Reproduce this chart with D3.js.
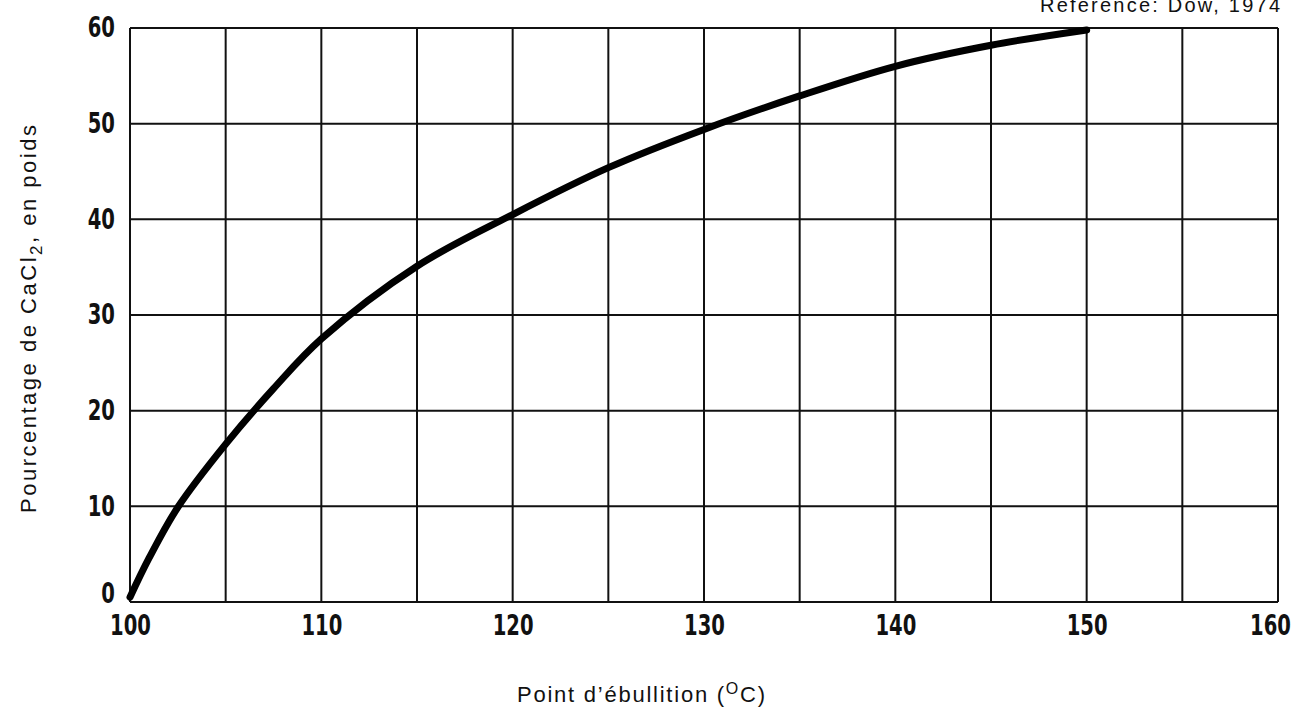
<!DOCTYPE html>
<html>
<head>
<meta charset="utf-8">
<script src="https://cdn.jsdelivr.net/npm/d3@7"></script>
<style>
  html, body { margin: 0; padding: 0; background: #fff; }
  svg { display: block; }
  .tick-label { font-family: "DejaVu Sans", sans-serif; font-weight: bold; font-size: 28px; fill: #111; }
  .title { font-family: "Liberation Sans", Arial, sans-serif; fill: #111; }
</style>
</head>
<body>
<svg id="chart" width="1294" height="719"></svg>
<script>
// Boiling point of aqueous CaCl2 solutions vs. concentration
const boilingPoint = [100, 101, 102.5, 105, 107.5, 110, 115, 120, 125, 130, 135, 140, 145, 150];
const cacl2Percent = [0.5, 4.6, 9.9, 16.5, 22.3, 27.5, 35.1, 40.5, 45.4, 49.4, 52.9, 56.0, 58.2, 59.8];

const xTickLabels = [100, 110, 120, 130, 140, 150, 160];
const xGridValues = [100, 105, 110, 115, 120, 125, 130, 135, 140, 145, 150, 155, 160];
const yTickLabels = [0, 10, 20, 30, 40, 50, 60];

const svg = d3.select("#chart");
const margin = { left: 130, right: 16, top: 28, bottom: 117 };
const W = 1294, H = 719;
const squeeze = 0.7; // condensed look for the numerals

const x = d3.scaleLinear().domain([100, 160]).range([margin.left, W - margin.right]);
const y = d3.scaleLinear().domain([0, 60]).range([H - margin.bottom, margin.top]);

// grid
const grid = svg.append("g").attr("stroke", "#111").attr("stroke-width", 2);
grid.selectAll("line.v").data(xGridValues).join("line")
  .attr("class", "v")
  .attr("x1", d => x(d)).attr("x2", d => x(d))
  .attr("y1", y(0)).attr("y2", y(60));
grid.selectAll("line.h").data(yTickLabels).join("line")
  .attr("class", "h")
  .attr("x1", x(100)).attr("x2", x(160))
  .attr("y1", d => y(d)).attr("y2", d => y(d));

// axes (labels only)
const xAxis = svg.append("g")
  .attr("transform", `translate(0,${y(0)})`)
  .call(d3.axisBottom(x).tickValues(xTickLabels).tickSize(0).tickPadding(13).tickFormat(d3.format("d")));
xAxis.select(".domain").remove();
xAxis.selectAll("text")
  .attr("class", "tick-label").attr("font-size", null).attr("font-family", null)
  .attr("x", d => d === 160 ? -8 / squeeze : 0)
  .attr("transform", `scale(${squeeze},1)`);

const yAxis = svg.append("g")
  .attr("transform", `translate(${x(100)},0)`)
  .call(d3.axisLeft(y).tickValues(yTickLabels).tickSize(0).tickPadding(15).tickFormat(d3.format("d")));
yAxis.select(".domain").remove();
yAxis.selectAll("text")
  .attr("class", "tick-label").attr("font-size", null).attr("font-family", null)
  .attr("x", -15 / squeeze)
  .attr("y", d => d === 0 ? -8 : 0)
  .attr("transform", `scale(${squeeze},1)`);

// curve
const pts = boilingPoint.map((b, i) => [b, cacl2Percent[i]]);
svg.append("path")
  .datum(pts)
  .attr("fill", "none")
  .attr("stroke", "#000")
  .attr("stroke-width", 7)
  .attr("stroke-linecap", "round")
  .attr("stroke-linejoin", "round")
  .attr("d", d3.line().x(d => x(d[0])).y(d => y(d[1])).curve(d3.curveCatmullRom.alpha(0.5)));

// titles
const xt = svg.append("text").attr("class", "title")
  .attr("x", 517).attr("y", 702).attr("font-size", 22)
  .attr("textLength", 248).attr("lengthAdjust", "spacing");
xt.append("tspan").text("Point d\u2019ébullition (");
xt.append("tspan").attr("font-size", 16).attr("dy", -8).text("O");
xt.append("tspan").attr("dy", 8).text("C)");

const yt = svg.append("text").attr("class", "title")
  .attr("transform", "translate(36,513) rotate(-90)")
  .attr("font-size", 22)
  .attr("textLength", 388).attr("lengthAdjust", "spacing");
yt.append("tspan").text("Pourcentage de CaCl");
yt.append("tspan").attr("font-size", 17).attr("dy", 6).text("2");
yt.append("tspan").attr("dy", -6).text(", en poids");

svg.append("text").attr("class", "title")
  .attr("x", 1040).attr("y", 12).attr("font-size", 20)
  .attr("textLength", 240).attr("lengthAdjust", "spacing")
  .text("Référence: Dow, 1974");
</script>
</body>
</html>
